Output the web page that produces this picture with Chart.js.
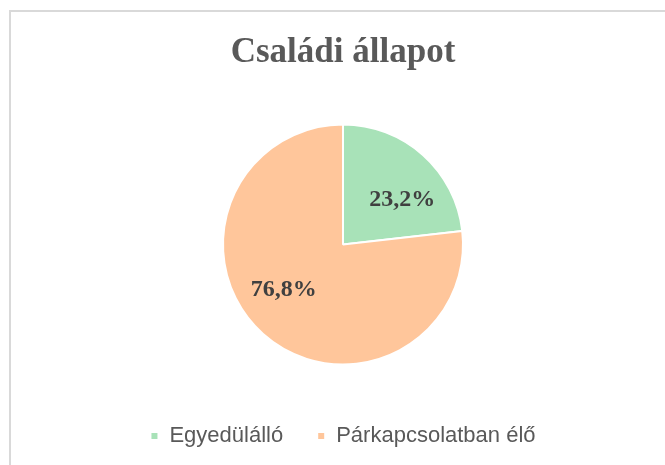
<!DOCTYPE html>
<html>
<head>
<meta charset="utf-8">
<script src="https://cdn.jsdelivr.net/npm/chart.js@4.4.0/dist/chart.umd.min.js"></script>
<style>
  html, body { margin: 0; padding: 0; background: #fff; }
  #frame {
    position: absolute; left: 9px; top: 10px;
    width: 700px; height: 500px;
    border: 2px solid #d9d9d9;
  }
  #wrap { position: absolute; left: 0; top: 0; width: 665px; height: 465px; }
</style>
</head>
<body>
<div id="frame"></div>
<div id="wrap"><canvas id="pie-chart"></canvas></div>
<script>
// adatok
const categories = ['Egyedülálló', 'Párkapcsolatban élő'];
const shares = [23.2, 76.8];
const sliceColors = ['#a8e2b8', '#ffc69b'];

// szazalek feliratok a szeletek belsejeben (kicsit elforgatva, mint az Excelben)
const sliceLabels = {
    id: 'sliceLabels',
    afterDatasetsDraw(chart) {
        const ctx = chart.ctx;
        const meta = chart.getDatasetMeta(0);
        ctx.save();
        ctx.font = 'bold 24px "Liberation Serif", "Times New Roman", serif';
        ctx.fillStyle = '#404040';
        ctx.textAlign = 'center';
        ctx.textBaseline = 'middle';
        meta.data.forEach((arc, i) => {
            const p = arc.getProps(['x', 'y', 'startAngle', 'endAngle', 'outerRadius'], true);
            const mid = (p.startAngle + p.endAngle) / 2 + 0.19;
            const r = p.outerRadius * 0.62;
            const label = shares[i].toFixed(1).replace('.', ',') + '%';
            ctx.fillText(label, p.x + Math.cos(mid) * r, p.y + Math.sin(mid) * r);
        });
        ctx.restore();
    }
};

const ctx = document.getElementById('pie-chart').getContext('2d');
const pieChart = new Chart(ctx, {
    type: 'pie',
    data: {
        labels: categories,
        datasets: [{
            data: shares,
            backgroundColor: sliceColors,
            borderColor: '#ffffff',
            borderWidth: 2,
            radius: 120
        }]
    },
    options: {
        responsive: true,
        maintainAspectRatio: false,
        animation: false,
        layout: { padding: { left: 21, right: 0, top: 0, bottom: 8 } },
        plugins: {
            title: {
                display: true,
                text: 'Családi állapot',
                color: '#595959',
                font: { family: '"Liberation Serif", "Times New Roman", serif', size: 35, weight: 'bold' },
                padding: { top: 32, bottom: 24 }
            },
            legend: {
                position: 'bottom',
                labels: {
                    color: '#595959',
                    font: { family: '"Liberation Sans", Arial, sans-serif', size: 22 },
                    boxWidth: 8,
                    boxHeight: 8,
                    padding: 34
                }
            },
            tooltip: { enabled: false }
        }
    },
    plugins: [sliceLabels]
});
</script>
</body>
</html>
